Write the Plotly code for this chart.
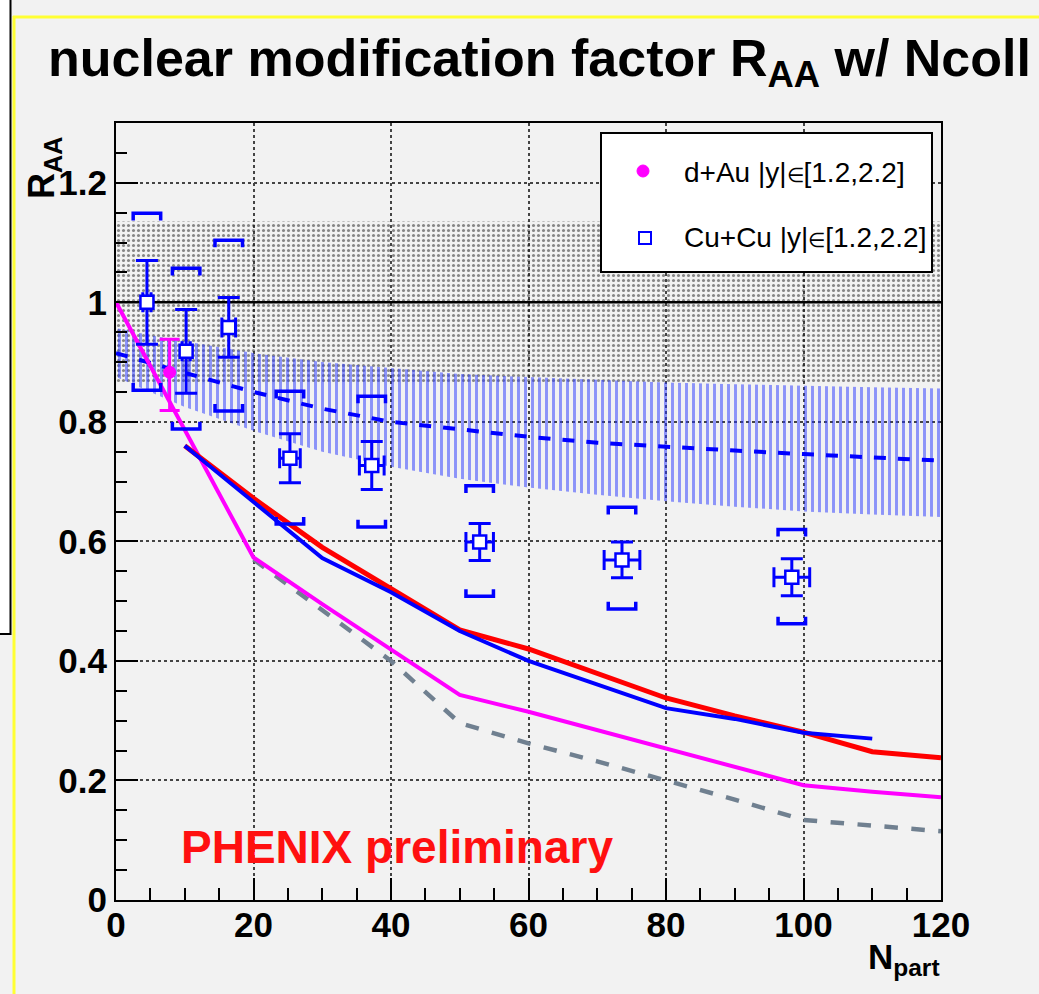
import plotly.graph_objects as go

# ---------------- data ----------------
# Cu+Cu |y| in [1.2,2.2]
cu_npart = [4.5, 10.2, 16.4, 25.3, 37.2, 52.9, 73.6, 98.3]
cu_raa = [1.00, 0.918, 0.958, 0.739, 0.727, 0.599, 0.569, 0.540]
cu_stat = [0.07, 0.07, 0.05, 0.041, 0.04, 0.031, 0.03, 0.031]
cu_xerr = [0.6, 0.6, 1.0, 1.5, 1.8, 2.0, 2.6, 2.6]
cu_sys_hi = [1.149, 1.057, 1.104, 0.851, 0.843, 0.693, 0.657, 0.620]
cu_sys_lo = [0.853, 0.788, 0.818, 0.629, 0.624, 0.508, 0.487, 0.462]

# d+Au |y| in [1.2,2.2]
dau_npart = [7.8]
dau_raa = [0.883]
dau_err_hi = [0.055]
dau_err_lo = [0.064]

# global normalisation uncertainty band around 1
norm_center = 1.0
norm_sys = 0.135

# theory band (blue hatched) with dashed central curve
band_x = [0, 5, 10, 20, 30, 40, 50, 60, 70, 80, 90, 100, 110, 120]
band_mid = [0.915, 0.898, 0.882, 0.85, 0.822, 0.80, 0.788, 0.775, 0.765, 0.758, 0.752, 0.746, 0.741, 0.735]
band_hi = [0.957, 0.945, 0.935, 0.915, 0.90, 0.89, 0.88, 0.875, 0.870, 0.866, 0.863, 0.86, 0.858, 0.856]
band_lo = [0.875, 0.85, 0.825, 0.785, 0.75, 0.725, 0.705, 0.69, 0.678, 0.667, 0.658, 0.65, 0.645, 0.641]

# model curves
mag_x = [0, 10, 20, 30, 40, 50, 60, 70, 80, 90, 100, 110, 120]
mag_y = [1.0, 0.787, 0.573, 0.495, 0.42, 0.343, 0.315, 0.284, 0.254, 0.223, 0.192, 0.181, 0.172]
red_x = [10, 20, 30, 40, 50, 60, 70, 80, 90, 100, 110, 120]
red_y = [0.76, 0.672, 0.59, 0.52, 0.452, 0.42, 0.38, 0.338, 0.308, 0.281, 0.248, 0.238]
blue_x = [10, 20, 30, 40, 50, 60, 70, 80, 90, 100, 110]
blue_y = [0.76, 0.665, 0.572, 0.515, 0.45, 0.40, 0.36, 0.321, 0.303, 0.28, 0.27]
gray_x = [20, 30, 40, 50, 60, 70, 80, 90, 100, 110, 120]
gray_y = [0.57, 0.485, 0.40, 0.296, 0.262, 0.232, 0.2, 0.168, 0.134, 0.125, 0.115]

x_range = [0, 120]
y_range = [0, 1.3]

# ---------------- layout geometry ----------------
W, H = 1039, 994
L, R, T, B = 116, 98, 123, 94
PW, PH = W - L - R, H - T - B


def px(p):
    return (p - L) / PW


def py(p):
    return (H - B - p) / PH


FONT = "Liberation Sans, Arial, Helvetica, sans-serif"
BLUE = "#0000ff"
MAG = "#ff00ff"
ELEM = "<span style='font-size:20px'>∈</span>"

fig = go.Figure()

# gray normalisation band (dotted)
fig.add_trace(go.Scatter(
    x=[x_range[0], x_range[1], x_range[1], x_range[0], x_range[0]],
    y=[norm_center - norm_sys, norm_center - norm_sys, norm_center + norm_sys,
       norm_center + norm_sys, norm_center - norm_sys],
    mode="lines", line=dict(width=0), fill="toself",
    fillcolor="rgba(0,0,0,0)",
    fillpattern=dict(shape=".", fgcolor="#1a1a1a", bgcolor="rgba(0,0,0,0)",
                     size=5, solidity=0.3),
    hoverinfo="skip", showlegend=False))

# blue hatched theory band
fig.add_trace(go.Scatter(
    x=band_x + band_x[::-1], y=band_hi + band_lo[::-1],
    mode="lines", line=dict(width=0), fill="toself",
    fillcolor="rgba(0,0,0,0)",
    fillpattern=dict(shape="|", fgcolor="#2433ff", bgcolor="rgba(0,0,0,0)",
                     size=7, solidity=0.42),
    hoverinfo="skip", showlegend=False))

# dashed band centre
fig.add_trace(go.Scatter(x=band_x, y=band_mid, mode="lines",
                         line=dict(color=BLUE, width=4, dash="dash"),
                         hoverinfo="skip", showlegend=False))

# unity line
fig.add_trace(go.Scatter(x=x_range, y=[1, 1], mode="lines",
                         line=dict(color="black", width=2.5),
                         hoverinfo="skip", showlegend=False))

# model curves
fig.add_trace(go.Scatter(x=gray_x, y=gray_y, mode="lines",
                         line=dict(color="#708090", width=4.5, dash="dash"),
                         hoverinfo="skip", showlegend=False))
fig.add_trace(go.Scatter(x=mag_x, y=mag_y, mode="lines",
                         line=dict(color=MAG, width=4),
                         hoverinfo="skip", showlegend=False))
fig.add_trace(go.Scatter(x=red_x, y=red_y, mode="lines",
                         line=dict(color="#ff0000", width=5),
                         hoverinfo="skip", showlegend=False))
fig.add_trace(go.Scatter(x=blue_x, y=blue_y, mode="lines",
                         line=dict(color=BLUE, width=4),
                         hoverinfo="skip", showlegend=False))

# systematic brackets for Cu+Cu
bw = 2.0      # half width in Npart units
leg = 0.012   # leg length in R_AA units
bx, by = [], []
for x, hi, lo in zip(cu_npart, cu_sys_hi, cu_sys_lo):
    bx += [x - bw, x - bw, x + bw, x + bw, None]
    by += [hi - leg, hi, hi, hi - leg, None]
    bx += [x - bw, x - bw, x + bw, x + bw, None]
    by += [lo + leg, lo, lo, lo + leg, None]
fig.add_trace(go.Scatter(x=bx, y=by, mode="lines",
                         line=dict(color=BLUE, width=3.5),
                         hoverinfo="skip", showlegend=False))

# d+Au point
fig.add_trace(go.Scatter(
    x=dau_npart, y=dau_raa, mode="markers",
    marker=dict(symbol="circle", size=13, color=MAG),
    error_y=dict(type="data", symmetric=False, array=dau_err_hi,
                 arrayminus=dau_err_lo, color=MAG, thickness=3, width=10),
    showlegend=False))

# Cu+Cu points
fig.add_trace(go.Scatter(
    x=cu_npart, y=cu_raa, mode="markers",
    marker=dict(symbol="square", size=13, color="white",
                line=dict(color=BLUE, width=2.5)),
    error_y=dict(type="data", array=cu_stat, color=BLUE, thickness=3, width=11),
    error_x=dict(type="data", array=cu_xerr, color=BLUE, thickness=3, width=10),
    showlegend=False))

# ---------------- decorations ----------------
shapes = [
    # white box with black frame at the very left
    dict(type="rect", xref="paper", yref="paper", x0=px(-5), x1=px(10.5),
         y0=py(634), y1=py(-5), fillcolor="white",
         line=dict(color="black", width=2), layer="above"),
    # yellow border
    dict(type="line", xref="paper", yref="paper", x0=px(14), x1=px(14),
         y0=py(16), y1=py(1000), line=dict(color="#ffff33", width=3), layer="above"),
    dict(type="line", xref="paper", yref="paper", x0=px(13), x1=px(1045),
         y0=py(17), y1=py(17), line=dict(color="#ffff33", width=3), layer="above"),
    # legend box
    dict(type="rect", xref="paper", yref="paper", x0=px(601), x1=px(932),
         y0=py(272), y1=py(133), fillcolor="white",
         line=dict(color="black", width=2), layer="above"),
    # legend markers
    dict(type="circle", xref="paper", yref="paper", x0=px(637), x1=px(649),
         y0=py(177), y1=py(165), fillcolor=MAG, line=dict(color=MAG, width=1),
         layer="above"),
    dict(type="rect", xref="paper", yref="paper", x0=px(639), x1=px(651),
         y0=py(244), y1=py(232), fillcolor="white", line=dict(color=BLUE, width=2),
         layer="above"),
]

annotations = [
    dict(text="<b>nuclear modification factor R<sub>AA</sub> w/ Ncoll</b>",
         xref="paper", yref="paper", x=px(539), y=py(27), xanchor="center",
         yanchor="top", showarrow=False, font=dict(family=FONT, size=52, color="black")),
    dict(text="<b>R<sub>AA</sub></b>", textangle=-90, xref="paper", yref="paper",
         x=px(44), y=py(135), xanchor="center", yanchor="top", showarrow=False,
         font=dict(family=FONT, size=36, color="black")),
    dict(text="<b>N<sub>part</sub></b>", xref="paper", yref="paper",
         x=px(942), y=py(935), xanchor="right", yanchor="top", showarrow=False,
         font=dict(family=FONT, size=35, color="black")),
    dict(text="<b>PHENIX preliminary</b>", xref="paper", yref="paper",
         x=px(179), y=py(847), xanchor="left", yanchor="middle", showarrow=False,
         font=dict(family=FONT, size=46, color="#ff1010")),
    dict(text="d+Au |y|" + ELEM + "[1.2,2.2]", xref="paper", yref="paper",
         x=px(682), y=py(172), xanchor="left", yanchor="middle", showarrow=False,
         font=dict(family=FONT, size=28, color="black")),
    dict(text="Cu+Cu |y|" + ELEM + "[1.2,2.2]", xref="paper", yref="paper",
         x=px(682), y=py(238), xanchor="left", yanchor="middle", showarrow=False,
         font=dict(family=FONT, size=28, color="black")),
]

axis_common = dict(
    showline=True, linecolor="black", linewidth=2, mirror=True,
    ticks="inside", tickcolor="black", tickwidth=1.5,
    showgrid=True, gridcolor="#444444", griddash="dot", gridwidth=1.5,
    zeroline=False,
    tickfont=dict(family=FONT, size=35, color="black", weight="bold"),
)

fig.update_layout(
    width=W, height=H,
    margin=dict(l=L, r=R, t=T, b=B, pad=0),
    paper_bgcolor="#f2f2f2", plot_bgcolor="#f2f2f2",
    showlegend=False,
    xaxis=dict(range=x_range, tickmode="linear", tick0=0, dtick=20, ticklen=22,
               ticklabelstandoff=-7,
               minor=dict(dtick=5, ticklen=12, ticks="inside", tickcolor="black",
                          showgrid=False),
               **axis_common),
    yaxis=dict(range=y_range, tickmode="linear", tick0=0, dtick=0.2, ticklen=22,
               minor=dict(dtick=0.05, ticklen=11, ticks="inside", tickcolor="black",
                          showgrid=False),
               **axis_common),
    shapes=shapes,
    annotations=annotations,
)

fig.write_html("out.html", config={"displayModeBar": False})
